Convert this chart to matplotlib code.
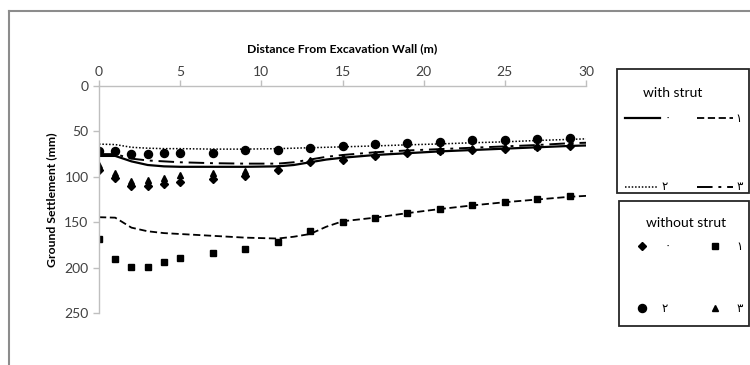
import matplotlib
matplotlib.use("Agg")
import matplotlib.pyplot as plt
from matplotlib.lines import Line2D
from matplotlib.patches import Rectangle

# ---------------- data ----------------
pt_x = [0, 1, 2, 3, 4, 5, 7, 9, 11, 13, 15, 17, 19, 21, 23, 25, 27, 29]
wo_0_diamond = [92, 101, 110, 110, 108, 106, 102, 99, 93, 84, 82, 77, 74, 72, 70, 69, 67, 66]
wo_1_square = [168, 190, 199, 199, 194, 189, 184, 180, 172, 160, 150, 145, 140, 135, 131, 128, 124.5, 121.5]
wo_2_circle = [72, 72, 75, 75, 74, 74, 74, 71, 70, 68, 66, 64, 63, 62, 60, 59, 58.5, 57.5]
wo_3_triangle = [87, 96, 105, 103, 101, 98, 96, 94, 90, 81, 78, 75, 72, 70, 68.5, 67, 66, 64]

ln_x = [0, 1, 2, 3, 4, 5, 7, 9, 11, 12, 13, 14, 15, 17, 19, 21, 23, 25, 27, 29, 30]
w_0_solid = [77, 77, 83, 87, 88.5, 89, 89, 89, 88.5, 87, 84, 81, 79, 76, 74, 72, 70.5, 69, 67.5, 66, 65.5]
w_1_dashed = [144.5, 145, 156, 160, 162, 163, 165, 167, 168, 166, 163, 155, 149, 145, 140, 135.5, 131.5, 128, 125, 122, 121]
w_2_dotted = [64, 64.5, 67.5, 68.5, 69, 69, 69.5, 69.5, 69, 68.5, 68, 67.5, 67, 66, 64.8, 63.8, 62.5, 61.5, 60, 58.8, 58.2]
w_3_dashdot = [75, 75, 80, 82, 83, 84, 85, 85.5, 85.5, 84, 81, 78, 76, 73, 71, 69.5, 68, 66.5, 65, 63, 62.5]

x_ticks = [0, 5, 10, 15, 20, 25, 30]
y_ticks = [0, 50, 100, 150, 200, 250]
labels = ["\u0660", "\u0661", "\u0662", "\u0663"]

title_x = "Distance From Excavation Wall (m)"
title_y = "Ground Settlement (mm)"

# ---------------- figure ----------------
W, H = 750, 365
fig = plt.figure(figsize=(W / 100, H / 100), dpi=100)
plt.rcParams['font.family'] = ['Lato', 'DejaVu Sans']

def fx(px):
    return px / W

def fy(py):
    return 1 - py / H

ax = fig.add_axes([fx(99), fy(313), fx(586) - fx(99), fy(86) - fy(313)])

axis_col = '#bfbfbf'
txt_col = '#404040'

ax.plot(ln_x, w_0_solid, color='black', lw=1.6, ls='-')
ax.plot(ln_x, w_1_dashed, color='black', lw=1.3, ls=(0, (4, 2)))
ax.plot(ln_x, w_2_dotted, color='black', lw=1.1, ls=(0, (1, 1.2)))
ax.plot(ln_x, w_3_dashdot, color='black', lw=1.4, ls=(0, (8, 3, 1.5, 3)))

ax.plot(pt_x, wo_0_diamond, ls='none', marker='D', ms=3.6, color='black')
ax.plot(pt_x, wo_1_square, ls='none', marker='s', ms=4.2, color='black')
ax.plot(pt_x, wo_2_circle, ls='none', marker='o', ms=5.8, color='black')
ax.plot(pt_x, wo_3_triangle, ls='none', marker='^', ms=4.8, color='black')

ax.set_xlim(0, 30)
ax.set_ylim(250, 0)
ax.set_xticks(x_ticks)
ax.set_yticks(y_ticks)
ax.xaxis.tick_top()
ax.xaxis.set_label_position('top')
for s in ['right', 'bottom']:
    ax.spines[s].set_visible(False)
for s in ['top', 'left']:
    ax.spines[s].set_color(axis_col)
    ax.spines[s].set_linewidth(1.0)
ax.tick_params(axis='both', colors=axis_col, labelcolor=txt_col, labelsize=10,
               length=4, width=1.0, direction='out')
ax.tick_params(axis='x', pad=2)
ax.set_xlabel(title_x, fontsize=8.8, fontweight='bold', color='black', labelpad=10)
ax.set_ylabel(title_y, fontsize=8.8, fontweight='bold', color='black', labelpad=5)

# outer chart frame
fig.add_artist(Line2D([fx(9), fx(W)], [fy(11), fy(11)], color='#8c8c8c', lw=1.5))
fig.add_artist(Line2D([fx(9), fx(9)], [fy(11), fy(H)], color='#8c8c8c', lw=1.5))

# ---------------- legends ----------------
box_col = '#262626'
fig.add_artist(Rectangle((fx(617), fy(193)), fx(749) - fx(617), fy(69) - fy(193),
                         fill=False, ec=box_col, lw=1.3))
fig.add_artist(Rectangle((fx(619), fy(326)), fx(749) - fx(619), fy(201) - fy(326),
                         fill=False, ec=box_col, lw=1.3))

fig.text(fx(673), fy(93), "with strut", fontsize=10, ha='center', va='center', color='black')
fig.text(fx(686), fy(223), "without strut", fontsize=10, ha='center', va='center', color='black')

lab_font = dict(fontsize=8.5, va='center', ha='center', color='black', family=['DejaVu Sans'])

# with strut line samples
line_samples = [
    (625, 660, 118, dict(lw=1.6, ls='-'), 668, labels[0]),
    (697, 733, 118, dict(lw=1.3, ls=(0, (4, 2))), 739, labels[1]),
    (625, 658, 187, dict(lw=1.1, ls=(0, (1, 1.2))), 665, labels[2]),
    (697, 733, 187, dict(lw=1.4, ls=(0, (8, 3, 1.5, 3))), 740, labels[3]),
]
for x0, x1, yy, st, lx, lab in line_samples:
    fig.add_artist(Line2D([fx(x0), fx(x1)], [fy(yy), fy(yy)], color='black', **st))
    fig.text(fx(lx), fy(yy), lab, **lab_font)

marker_samples = [
    (642, 246, dict(marker='D', ms=3.6), 668, labels[0]),
    (715, 246, dict(marker='s', ms=4.2), 740, labels[1]),
    (642, 308, dict(marker='o', ms=5.8), 665, labels[2]),
    (715, 308, dict(marker='^', ms=4.8), 740, labels[3]),
]
for mx, my, st, lx, lab in marker_samples:
    fig.add_artist(Line2D([fx(mx)], [fy(my)], color='black', ls='none', **st))
    fig.text(fx(lx), fy(my), lab, **lab_font)

fig.savefig("out.png", dpi=100)
